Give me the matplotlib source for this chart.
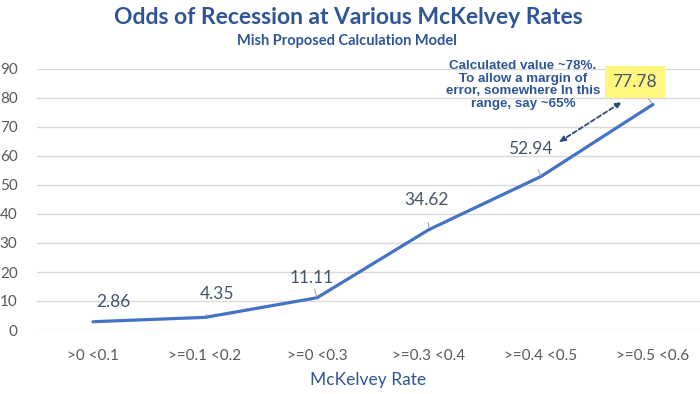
import matplotlib
matplotlib.use("Agg")
import matplotlib.pyplot as plt

categories = [">0 <0.1", ">=0.1 <0.2", ">=0 <0.3", ">=0.3 <0.4", ">=0.4 <0.5", ">=0.5 <0.6"]
odds = [2.86, 4.35, 11.11, 34.62, 52.94, 77.78]
yticks = [0, 10, 20, 30, 40, 50, 60, 70, 80, 90]
# label offsets in points (dx, dy) relative to the data point
label_offsets = [(15, 14), (9, 17), (-4, 14), (-2, 21), (-8, 20), (-13, 16)]

plt.rcParams['font.family'] = ['Lato', 'DejaVu Sans']

W, H = 700, 394
fig = plt.figure(figsize=(W / 100, H / 100), dpi=100)
ax = fig.add_axes([37 / W, (H - 330) / H, (700 - 37) / W, (330 - 69) / H])

x = list(range(len(categories)))
ax.plot(x, odds, color="#4472C4", lw=2.3, solid_capstyle="round", zorder=3)

ax.set_xlim(-0.5, 5.42)
ax.set_ylim(0, 90)
ax.set_yticks(yticks)
ax.set_xticks(x)
ax.set_xticklabels(categories)
ax.grid(axis="y", color="#D9D9D9", lw=1)
ax.set_axisbelow(True)
for s in ax.spines.values():
    s.set_visible(False)
ax.tick_params(axis="both", length=0, colors="#595959", labelsize=11)
ax.tick_params(axis="y", pad=14)
ax.tick_params(axis="x", pad=14)

for i, (v, (dx, dy)) in enumerate(zip(odds, label_offsets)):
    bbox = None
    if i == len(odds) - 1:
        bbox = dict(boxstyle="square,pad=0.45", fc="#FFF57F", ec="none")
    ax.annotate(f"{v:.2f}", xy=(i, v), xytext=(dx, dy), textcoords="offset points",
                ha="center", va="center", fontsize=12.5, color="#44546A", bbox=bbox,
                arrowprops=dict(arrowstyle="-", color="#A6A6A6", lw=0.8,
                                shrinkA=8, shrinkB=1), zorder=4)

ax.set_xlabel("McKelvey Rate", color="#2F5597", fontsize=12.5, labelpad=6)

fig.text(0.497, 0.955, "Odds of Recession at Various McKelvey Rates", ha="center", va="center",
         fontsize=16.5, fontweight="bold", color="#2F5597")
fig.text(0.495, 0.897, "Mish Proposed Calculation Model", ha="center", va="center",
         fontsize=10.5, fontweight="bold", color="#2F5597")

fig.text(523 / W, 1 - 85 / H,
         "Calculated value ~78%.\nTo allow a margin of\nerror, somewhere In this\nrange, say ~65%",
         ha="center", va="center", fontsize=9.6, fontweight="bold", color="#2F5597",
         family=["Liberation Sans", "DejaVu Sans"], linespacing=1.08)

ax.annotate("", xy=(625 / W, 1 - 100 / H), xytext=(556 / W, 1 - 144 / H),
            xycoords="figure fraction", textcoords="figure fraction",
            arrowprops=dict(arrowstyle="<|-|>,head_length=0.4,head_width=0.15",
                            color="#2F4A7A", lw=1.3, linestyle=(0, (2.5, 1.5))))

fig.savefig("out.png", dpi=100, facecolor="white")
